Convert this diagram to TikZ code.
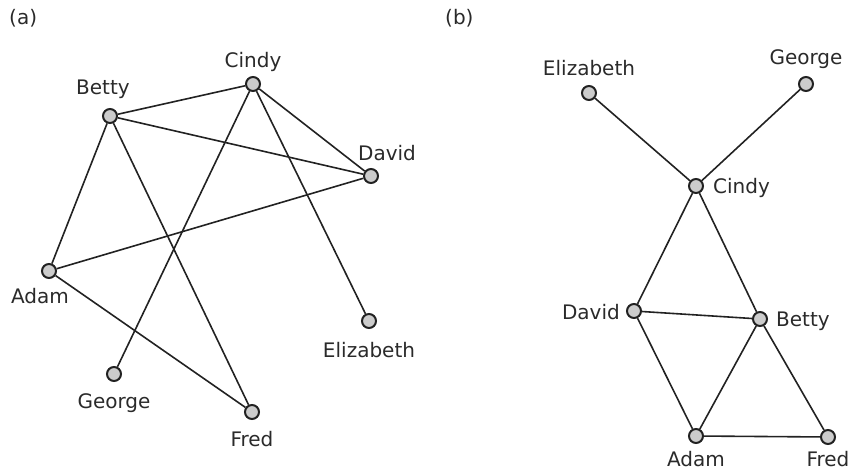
\documentclass[tikz,border=0pt]{standalone}
\usepackage{fontspec}
\setmainfont{DejaVu Sans}
\definecolor{ink}{HTML}{222222}
\definecolor{txt}{HTML}{2A2A2A}
\definecolor{vfill}{HTML}{CCCCCC}
\begin{document}
\begin{tikzpicture}[x=1pt,y=-1pt,
  vertex/.style={circle,draw=ink,fill=vfill,line width=2pt,minimum size=14pt,inner sep=0pt},
  lbl/.style={text=txt,font=\fontsize{20}{24}\selectfont,inner sep=0pt,anchor=base},
  edge/.style={draw=ink,line width=1.6pt}]
\useasboundingbox (0,0) rectangle (853,471);

% panel labels
\node[lbl,anchor=base west] (pa) at (9,24) {(a)};
\node[lbl,anchor=base west] (pb) at (445,24) {(b)};

% ---- graph (a) ----
\node[vertex] (aC) at (253,84) {};
\node[vertex] (aB) at (110,116) {};
\node[vertex] (aD) at (371,176) {};
\node[vertex] (aA) at (49,271) {};
\node[vertex] (aE) at (369,321) {};
\node[vertex] (aG) at (114,374) {};
\node[vertex] (aF) at (252,412) {};

\draw[edge] (aB) -- (aC);
\draw[edge] (aB) -- (aD);
\draw[edge] (aB) -- (aA);
\draw[edge] (aB) -- (aF);
\draw[edge] (aC) -- (aD);
\draw[edge] (aC) -- (aG);
\draw[edge] (aC) -- (aE);
\draw[edge] (aA) -- (aD);
\draw[edge] (aA) -- (aF);

\node[lbl] (laC) at (253,67) {Cindy};
\node[lbl] (laB) at (103,94) {Betty};
\node[lbl] (laD) at (387,160) {David};
\node[lbl] (laA) at (40,303) {Adam};
\node[lbl] (laE) at (369,357) {Elizabeth};
\node[lbl] (laG) at (114,408) {George};
\node[lbl] (laF) at (252,446) {Fred};

% ---- graph (b) ----
\node[vertex] (bE) at (589,93) {};
\node[vertex] (bG) at (806,84) {};
\node[vertex] (bC) at (696,186) {};
\node[vertex] (bD) at (634,311) {};
\node[vertex] (bB) at (760,319) {};
\node[vertex] (bA) at (696,436) {};
\node[vertex] (bF) at (828,437) {};

\draw[edge] (bE) -- (bC);
\draw[edge] (bG) -- (bC);
\draw[edge] (bC) -- (bD);
\draw[edge] (bC) -- (bB);
\draw[edge] (bD) -- (bB);
\draw[edge] (bD) -- (bA);
\draw[edge] (bB) -- (bA);
\draw[edge] (bB) -- (bF);
\draw[edge] (bA) -- (bF);

\node[lbl] (lbE) at (589,75) {Elizabeth};
\node[lbl] (lbG) at (806,64) {George};
\node[lbl,anchor=base west] (lbC) at (713,193) {Cindy};
\node[lbl,anchor=base east] (lbD) at (620,319) {David};
\node[lbl,anchor=base west] (lbB) at (776,326) {Betty};
\node[lbl] (lbA) at (696,466) {Adam};
\node[lbl] (lbF) at (828,466) {Fred};
\end{tikzpicture}
\end{document}
